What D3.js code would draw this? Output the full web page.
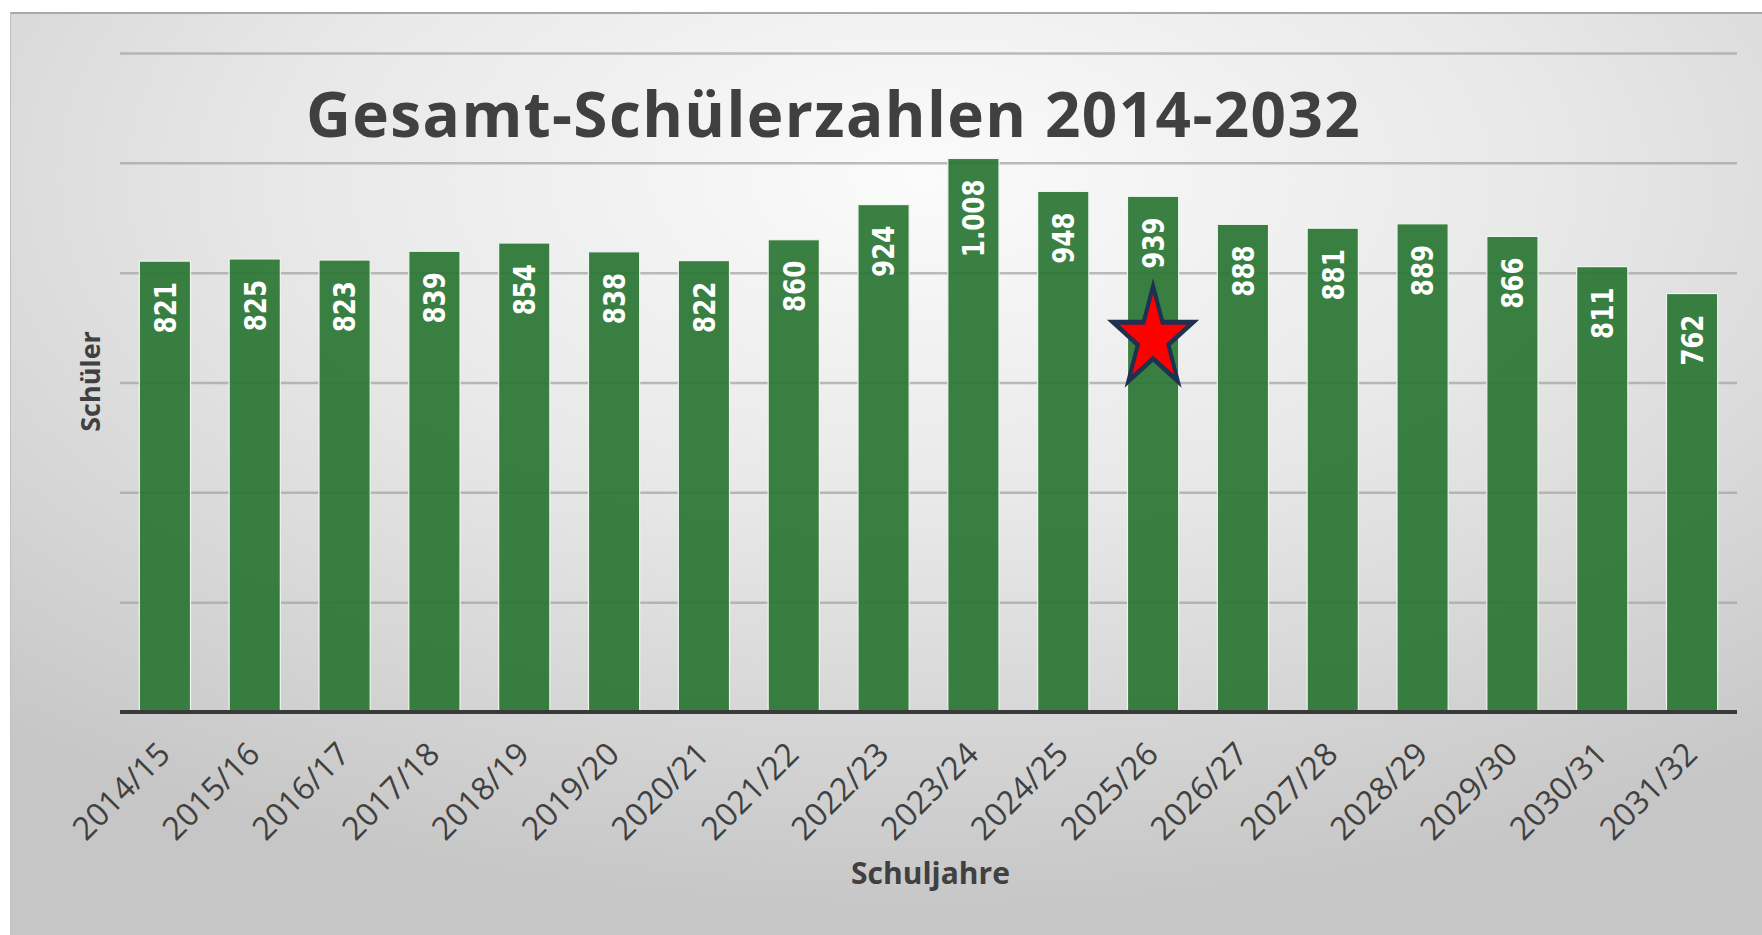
<!DOCTYPE html>
<html>
<head>
<meta charset="utf-8">
<script src="https://cdn.jsdelivr.net/npm/d3@7"></script>
<style>
    body { margin: 0; background: #ffffff; }
    .chartTitle { font-family: "Open Sans", sans-serif; font-weight: bold; fill: #404040; }
    .axisTitle { font-family: "Open Sans", sans-serif; font-weight: bold; fill: #404040; }
    .tickLabel { font-family: "Open Sans", sans-serif; fill: #404040; }
    .valueLabel { font-family: "DejaVu Sans", sans-serif; font-weight: bold; fill: #ffffff; }
</style>
</head>
<body>
<div id="chart"></div>
<script>

// school years on the x axis
const schoolYears = ["2014/15", "2015/16", "2016/17", "2017/18", "2018/19", "2019/20",
    "2020/21", "2021/22", "2022/23", "2023/24", "2024/25", "2025/26",
    "2026/27", "2027/28", "2028/29", "2029/30", "2030/31", "2031/32"];

// total number of pupils per year
const studentCounts = [821, 825, 823, 839, 854, 838, 822, 860, 924, 1008,
    948, 939, 888, 881, 889, 866, 811, 762];

// gridlines (no labels shown on the y axis)
const yTicks = [200, 400, 600, 800, 1000, 1200];
const yMax = 1200;

// the star marks the current year
const markedYear = "2025/26";
const markedValue = 680;

function makeChart() {

    /**********************
    ***** BASIC SETUP *****
    **********************/

    const width = 1762;
    const height = 935;
    const margin = {top: 53, left: 120, right: 25, bottom: 223};

    const plotBottom = height - margin.bottom;
    const plotRight = width - margin.right;

    const svg = d3.select("#chart")
        .append("svg")
        .attr("width", width)
        .attr("height", height);

    // grey panel with a soft radial shade
    const defs = svg.append("defs");
    const grad = defs.append("radialGradient")
        .attr("id", "bgShade")
        .attr("cx", "52%")
        .attr("cy", "18%")
        .attr("r", "80%");
    grad.append("stop").attr("offset", "0%").attr("stop-color", "#fbfbfb");
    grad.append("stop").attr("offset", "45%").attr("stop-color", "#e8e8e8");
    grad.append("stop").attr("offset", "100%").attr("stop-color", "#c6c6c6");

    svg.append("rect")
        .attr("x", 10)
        .attr("y", 12)
        .attr("width", width - 10)
        .attr("height", height - 12)
        .attr("fill", "url(#bgShade)");

    svg.append("line")
        .attr("x1", 10).attr("x2", width)
        .attr("y1", 13).attr("y2", 13)
        .attr("stroke", "#a9a9a9")
        .attr("stroke-width", 2);

    svg.append("line")
        .attr("x1", 10.5).attr("x2", 10.5)
        .attr("y1", 12).attr("y2", height)
        .attr("stroke", "#c0c0c0")
        .attr("stroke-width", 1);

    /***********************
    ***** X & Y SCALES *****
    ***********************/

    const xScale = d3.scaleBand()
        .domain(schoolYears)
        .range([margin.left, plotRight])
        .paddingInner(0.43)
        .paddingOuter(0.215);

    const yScale = d3.scaleLinear()
        .domain([0, yMax])
        .range([plotBottom, margin.top]);

    const germanFormat = d3.formatLocale({decimal: ",", thousands: ".", grouping: [3], currency: ["", " €"]})
        .format(",");

    /*******************
    ***** GRIDLINES *****
    *******************/

    svg.append("g")
        .attr("class", "grid")
        .attr("transform", `translate(${margin.left}, 0)`)
        .call(d3.axisLeft(yScale)
            .tickValues(yTicks)
            .tickSize(-(plotRight - margin.left))
            .tickFormat(""))
        .call(g => g.select(".domain").remove())
        .call(g => g.selectAll("line")
            .attr("stroke", "#a6a6a6")
            .attr("stroke-width", 2.5)
            .attr("stroke-opacity", 0.75));

    /***************
    ***** BARS *****
    ***************/

    const data = schoolYears.map((year, i) => ({year: year, value: studentCounts[i]}));

    svg.selectAll(".bar")
        .data(data)
        .enter()
        .append("rect")
        .attr("class", "bar")
        .attr("x", d => xScale(d.year))
        .attr("y", d => yScale(d.value))
        .attr("width", xScale.bandwidth())
        .attr("height", d => plotBottom - yScale(d.value))
        .attr("fill", "#2b7634")
        .attr("fill-opacity", 0.93)
        .attr("stroke", "#eef5ee")
        .attr("stroke-width", 1.2);

    // value labels, rotated, at the top inside each bar
    svg.selectAll(".valueLabel")
        .data(data)
        .enter()
        .append("text")
        .attr("class", "valueLabel")
        .attr("transform", d => `translate(${xScale(d.year) + xScale.bandwidth() / 2}, ${yScale(d.value) + 21}) rotate(-90) scale(0.82, 1)`)
        .attr("text-anchor", "end")
        .attr("dy", "0.36em")
        .style("font-size", "30px")
        .text(d => germanFormat(d.value));

    /*******************************
    ***** X AXIS & TICK LABELS *****
    *******************************/

    svg.append("line")
        .attr("x1", margin.left)
        .attr("x2", plotRight)
        .attr("y1", plotBottom)
        .attr("y2", plotBottom)
        .attr("stroke", "#3a3a3a")
        .attr("stroke-width", 4);

    svg.selectAll(".tickLabel")
        .data(schoolYears)
        .enter()
        .append("text")
        .attr("class", "tickLabel")
        .attr("transform", d => `translate(${xScale(d) + xScale.bandwidth() / 2 + 7}, ${plotBottom + 44}) rotate(-45)`)
        .attr("text-anchor", "end")
        .style("font-size", "32px")
        .text(d => d);

    /*************************
    ***** TITLES & LABELS *****
    *************************/

    svg.selectAll(".chartTitle")
        .data([{"label": "Gesamt-Schülerzahlen 2014-2032"}])
        .enter()
        .append("text")
        .attr("class", "chartTitle")
        .attr("x", 306)
        .attr("y", 137)
        .attr("text-anchor", "start")
        .style("font-size", "62px")
        .style("letter-spacing", "1.4px")
        .text(d => d.label);

    svg.selectAll(".yTitle")
        .data([{"label": "Schüler"}])
        .enter()
        .append("text")
        .attr("class", "axisTitle yTitle")
        .attr("transform", `translate(100, ${yScale(yMax * 0.5) - 1}) rotate(-90)`)
        .attr("text-anchor", "middle")
        .style("font-size", "27px")
        .text(d => d.label);

    svg.selectAll(".xTitle")
        .data([{"label": "Schuljahre"}])
        .enter()
        .append("text")
        .attr("class", "axisTitle xTitle")
        .attr("x", (margin.left + plotRight) / 2 + 2)
        .attr("y", 884)
        .attr("text-anchor", "middle")
        .style("font-size", "30px")
        .text(d => d.label);

    /***************
    ***** STAR *****
    ***************/

    svg.append("path")
        .attr("d", d3.symbol(d3.symbolStar, 3100)())
        .attr("transform", `translate(${xScale(markedYear) + xScale.bandwidth() / 2}, ${yScale(markedValue)}) scale(0.8, 1)`)
        .attr("fill", "#ff0000")
        .attr("stroke", "#1e3150")
        .attr("stroke-width", 5)
        .attr("stroke-linejoin", "miter");
}

makeChart();
</script>
</body>
</html>
